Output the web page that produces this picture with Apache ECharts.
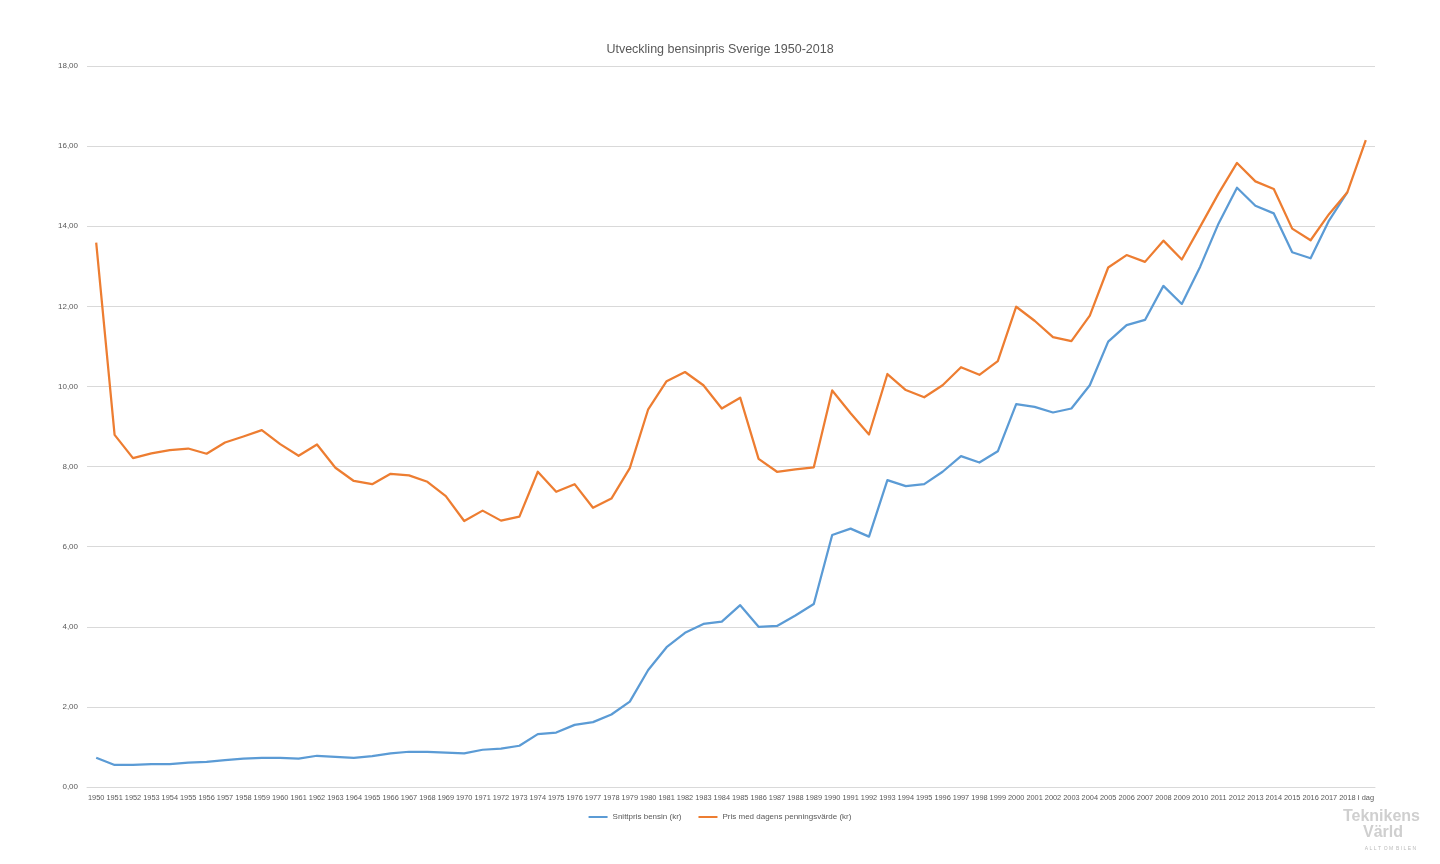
<!DOCTYPE html>
<html>
<head>
<meta charset="utf-8">
<script src="https://cdn.jsdelivr.net/npm/echarts@6/dist/echarts.min.js"></script>
<style>
html,body{margin:0;padding:0;background:#fff;}
#chart{width:1440px;height:864px;}
</style>
</head>
<body>
<div id="chart"></div>
<script>
var categories = ['1950','1951','1952','1953','1954','1955','1956','1957','1958','1959',
'1960','1961','1962','1963','1964','1965','1966','1967','1968','1969',
'1970','1971','1972','1973','1974','1975','1976','1977','1978','1979',
'1980','1981','1982','1983','1984','1985','1986','1987','1988','1989',
'1990','1991','1992','1993','1994','1995','1996','1997','1998','1999',
'2000','2001','2002','2003','2004','2005','2006','2007','2008','2009',
'2010','2011','2012','2013','2014','2015','2016','2017','2018','I dag'];

var snittpris = [0.73,0.55,0.55,0.57,0.57,0.61,0.63,0.67,0.71,0.73,
0.73,0.71,0.78,0.75,0.73,0.77,0.84,0.88,0.88,0.86,
0.84,0.93,0.96,1.03,1.32,1.36,1.55,1.62,1.81,2.13,
2.92,3.49,3.85,4.07,4.13,4.54,4.00,4.02,4.28,4.57,
6.29,6.45,6.25,7.66,7.51,7.56,7.87,8.26,8.10,8.38,
9.56,9.49,9.35,9.45,10.03,11.12,11.53,11.66,12.51,12.06,
12.99,14.07,14.96,14.51,14.32,13.35,13.20,14.14,14.85,'-'];

var dagensVarde = [13.59,8.79,8.21,8.33,8.41,8.45,8.32,8.60,8.75,8.91,
8.56,8.27,8.55,7.97,7.64,7.56,7.82,7.78,7.62,7.26,
6.64,6.90,6.65,6.75,7.87,7.37,7.56,6.97,7.20,7.96,
9.43,10.13,10.36,10.03,9.45,9.72,8.19,7.87,7.93,7.98,
9.90,9.33,8.80,10.31,9.91,9.73,10.03,10.48,10.29,10.63,
11.99,11.64,11.23,11.13,11.77,12.97,13.28,13.11,13.64,13.17,
13.99,14.82,15.58,15.12,14.93,13.94,13.65,14.30,14.85,16.15];

var yTicks = {min: 0, max: 18, interval: 2};

var chart = echarts.init(document.getElementById('chart'), null, {renderer: 'canvas'});
var fontFam = 'Liberation Sans, Arial, sans-serif';
chart.setOption({
  backgroundColor: '#ffffff',
  animation: false,
  title: {
    text: 'Utveckling bensinpris Sverige 1950-2018',
    left: 'center',
    top: 38,
    textStyle: {fontFamily: fontFam, fontSize: 12.5, fontWeight: 'normal', color: '#595959'}
  },
  grid: {left: 87, right: 65, top: 66, bottom: 77, containLabel: false},
  legend: {
    bottom: 38,
    left: 'center',
    icon: 'rect',
    itemWidth: 19,
    itemHeight: 2,
    itemGap: 17,
    textStyle: {fontFamily: fontFam, fontSize: 8, color: '#595959'},
    data: ['Snittpris bensin (kr)', 'Pris med dagens penningsvärde (kr)']
  },
  xAxis: {
    type: 'category',
    data: categories,
    boundaryGap: true,
    axisLine: {lineStyle: {color: '#d9d9d9', width: 1}},
    axisTick: {show: false},
    axisLabel: {interval: 0, margin: 7, fontFamily: fontFam, fontSize: 7.4, color: '#595959', hideOverlap: false}
  },
  yAxis: {
    type: 'value',
    min: yTicks.min,
    max: yTicks.max,
    interval: yTicks.interval,
    axisLine: {show: false},
    axisTick: {show: false},
    splitLine: {lineStyle: {color: '#d9d9d9', width: 1}},
    axisLabel: {
      margin: 9,
      fontFamily: fontFam, fontSize: 8, color: '#595959',
      formatter: function (v) { return v.toFixed(2).replace('.', ','); }
    }
  },
  series: [
    {
      name: 'Snittpris bensin (kr)',
      type: 'line',
      data: snittpris,
      symbol: 'none',
      lineStyle: {color: '#5B9BD5', width: 2.25, join: 'round'},
      itemStyle: {color: '#5B9BD5'}
    },
    {
      name: 'Pris med dagens penningsvärde (kr)',
      type: 'line',
      data: dagensVarde,
      symbol: 'none',
      lineStyle: {color: '#ED7D31', width: 2.25, join: 'round'},
      itemStyle: {color: '#ED7D31'}
    }
  ],
  graphic: [
    {type: 'text', right: 20, top: 809, style: {text: 'Teknikens', fontFamily: fontFam, fontSize: 16, fontWeight: 'bold', fill: '#cfcfcf'}},
    {type: 'text', right: 37, top: 825, style: {text: 'Värld', fontFamily: fontFam, fontSize: 16, fontWeight: 'bold', fill: '#cfcfcf'}},
    {type: 'text', right: 24, top: 846, style: {text: 'A L L T  O M  B I L E N', fontFamily: fontFam, fontSize: 5, fill: '#bbbbbb'}}
  ]
});
</script>
</body>
</html>
